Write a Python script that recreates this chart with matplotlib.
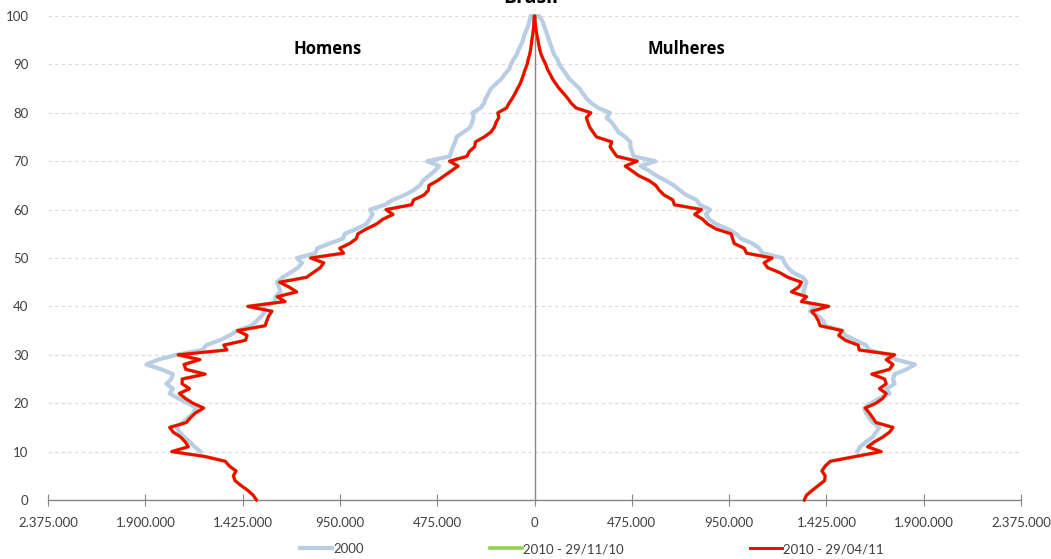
import numpy as np
import matplotlib
matplotlib.use("Agg")
import matplotlib.pyplot as plt
from matplotlib.ticker import FuncFormatter

# population by single age (thousands)
ages_2010 = list(range(0, 101))
ages_2000 = list(range(10, 101))

homens_2010_abr = [
    1357, 1374, 1400, 1433, 1462, 1470, 1457, 1489, 1510, 1610, 1771,
    1690, 1705, 1727, 1763, 1781, 1700, 1680, 1655, 1615, 1668,
    1705, 1734, 1684, 1720, 1720, 1608, 1702, 1711, 1634, 1740,
    1502, 1517, 1411, 1403, 1450, 1315, 1307, 1298, 1282, 1400,
    1218, 1256, 1161, 1198, 1245, 1113, 1080, 1046, 1029, 1093,
    932, 951, 902, 870, 862, 821, 772, 740, 691, 725,
    600, 590, 540, 518, 515, 473, 440, 406, 373, 415,
    330, 318, 292, 288, 246, 213, 196, 188, 174, 179,
    137, 124, 108, 95, 83, 70, 61, 53, 45, 36,
    31, 24, 19, 16, 13, 9, 6, 4, 3, 2]

mulheres_2010_abr = [
    1317, 1328, 1356, 1386, 1416, 1419, 1403, 1419, 1444, 1568, 1692,
    1626, 1659, 1700, 1733, 1750, 1667, 1651, 1634, 1614, 1667,
    1700, 1717, 1684, 1717, 1709, 1647, 1733, 1750, 1717, 1758,
    1585, 1580, 1518, 1485, 1502, 1394, 1386, 1373, 1353, 1436,
    1303, 1328, 1254, 1290, 1303, 1237, 1196, 1138, 1121, 1160,
    1035, 1024, 975, 967, 960, 886, 845, 821, 782, 815,
    683, 675, 633, 609, 592, 559, 509, 476, 443, 501,
    402, 385, 369, 377, 303, 286, 270, 261, 253, 275,
    203, 179, 162, 142, 121, 104, 88, 76, 63, 55,
    43, 33, 26, 21, 17, 12, 8, 5, 3, 2]

# the 29/11/10 release sits under the 29/04/11 line in the chart
homens_2010_nov = [
    1357, 1374, 1400, 1433, 1462, 1470, 1457, 1489, 1510, 1610, 1771,
    1690, 1705, 1727, 1763, 1781, 1700, 1680, 1655, 1615, 1668,
    1705, 1734, 1684, 1720, 1720, 1608, 1702, 1711, 1634, 1740,
    1502, 1517, 1411, 1403, 1450, 1315, 1307, 1298, 1282, 1400,
    1218, 1256, 1161, 1198, 1245, 1113, 1080, 1046, 1029, 1093,
    932, 951, 902, 870, 862, 821, 772, 740, 691, 725,
    600, 590, 540, 518, 515, 473, 440, 406, 373, 415,
    330, 318, 292, 288, 246, 213, 196, 188, 174, 179,
    137, 124, 108, 95, 83, 70, 61, 53, 45, 36,
    31, 24, 19, 16, 13, 9, 6, 4, 3, 2]

mulheres_2010_nov = [
    1317, 1328, 1356, 1386, 1416, 1419, 1403, 1419, 1444, 1568, 1692,
    1626, 1659, 1700, 1733, 1750, 1667, 1651, 1634, 1614, 1667,
    1700, 1717, 1684, 1717, 1709, 1647, 1733, 1750, 1717, 1758,
    1585, 1580, 1518, 1485, 1502, 1394, 1386, 1373, 1353, 1436,
    1303, 1328, 1254, 1290, 1303, 1237, 1196, 1138, 1121, 1160,
    1035, 1024, 975, 967, 960, 886, 845, 821, 782, 815,
    683, 675, 633, 609, 592, 559, 509, 476, 443, 501,
    402, 385, 369, 377, 303, 286, 270, 261, 253, 275,
    203, 179, 162, 142, 121, 104, 88, 76, 63, 55,
    43, 33, 26, 21, 17, 12, 8, 5, 3, 2]

homens_2000 = [
    1630, 1660, 1683, 1710, 1732, 1748, 1716, 1690, 1665, 1651, 1691,
    1740, 1781, 1765, 1797, 1773, 1765, 1822, 1895, 1838, 1748,
    1622, 1602, 1537, 1488, 1450, 1383, 1357, 1332, 1315, 1324,
    1265, 1265, 1240, 1248, 1258, 1230, 1190, 1155, 1135, 1160,
    1070, 1060, 1000, 935, 926, 870, 821, 805, 790, 803,
    730, 692, 634, 590, 560, 544, 515, 487, 465, 524,
    414, 406, 398, 386, 381, 347, 314, 305, 297, 302,
    263, 246, 238, 225, 213, 188, 162, 145, 124, 115,
    103, 87, 78, 66, 56, 50, 40, 31, 24, 19]

mulheres_2000 = [
    1576, 1590, 1618, 1651, 1667, 1684, 1651, 1634, 1618, 1610, 1642,
    1684, 1733, 1717, 1758, 1750, 1758, 1816, 1857, 1767, 1717,
    1634, 1618, 1568, 1518, 1502, 1419, 1411, 1386, 1345, 1370,
    1320, 1320, 1312, 1320, 1328, 1310, 1262, 1237, 1221, 1211,
    1113, 1097, 1065, 1008, 984, 943, 886, 853, 837, 857,
    807, 791, 741, 710, 680, 640, 595, 560, 518, 590,
    485, 476, 468, 468, 443, 410, 394, 377, 352, 369,
    311, 278, 253, 236, 220, 195, 170, 154, 137, 121,
    112, 96, 88, 79, 71, 63, 55, 46, 38, 22]

x_ticks = [-2375000, -1900000, -1425000, -950000, -475000, 0,
           475000, 950000, 1425000, 1900000, 2375000]
y_ticks = list(range(0, 101, 10))


def pyramid(ages, homens, mulheres):
    # one line: men from the base up to 100, then women back down
    x = [-v * 1000 for v in homens] + [v * 1000 for v in mulheres[::-1]]
    y = list(ages) + list(ages[::-1])
    return x, y


def fmt_pop(v, pos):
    return f"{abs(int(round(v))):,}".replace(",", ".")


fig = plt.figure(figsize=(10.51, 5.59), dpi=100)
ax = fig.add_axes([48 / 1051, 1 - 500 / 559, 973 / 1051, 484 / 559])

x, y = pyramid(ages_2000, homens_2000, mulheres_2000)
ax.plot(x, y, color='#B9CDE5', lw=3.0, solid_joinstyle='round', clip_on=False, label='2000', zorder=3)
x, y = pyramid(ages_2010, homens_2010_nov, mulheres_2010_nov)
ax.plot(x, y, color='#92D050', lw=2.6, solid_joinstyle='round', clip_on=False, label='2010 - 29/11/10', zorder=4)
x, y = pyramid(ages_2010, homens_2010_abr, mulheres_2010_abr)
ax.plot(x, y, color='#FF0000', lw=2.1, solid_joinstyle='round', clip_on=False, label='2010 - 29/04/11', zorder=5)

ax.set_xlim(-2375000, 2375000)
ax.set_ylim(0, 100)
ax.set_xticks(x_ticks)
ax.set_yticks(y_ticks)
ax.xaxis.set_major_formatter(FuncFormatter(fmt_pop))

for s in ['top', 'right', 'left']:
    ax.spines[s].set_visible(False)
ax.spines['bottom'].set_color('#868686')
ax.spines['bottom'].set_linewidth(1.0)
ax.axvline(0, color='#868686', lw=1.0, zorder=2)

ax.grid(axis='y', color='#D9D9D9', linestyle=(0, (3, 3)), lw=0.8)
ax.set_axisbelow(True)
ax.tick_params(axis='x', direction='inout', length=9, color='#868686', pad=8,
               labelsize=9.5, labelcolor='#404040')
ax.tick_params(axis='y', length=0, pad=14, labelsize=9.5, labelcolor='#404040')
for lab in ax.get_xticklabels() + ax.get_yticklabels():
    lab.set_family(['Lato', 'DejaVu Sans'])

ax.text(-1010000, 93.2, 'Homens', ha='center', va='center', fontsize=12,
        fontweight='bold', family=['Open Sans', 'DejaVu Sans'])
ax.text(740000, 93.2, 'Mulheres', ha='center', va='center', fontsize=12,
        fontweight='bold', family=['Open Sans', 'DejaVu Sans'])
fig.text(531 / 1051, 1 - 3 / 559, 'Brasil', ha='center', va='baseline', fontsize=14,
         fontweight='bold', family=['Open Sans', 'DejaVu Sans'])

leg = fig.legend(loc='center', bbox_to_anchor=(592 / 1051, 1 - 549 / 559), ncol=3,
                 frameon=False, handlelength=2.4, columnspacing=9.6, handletextpad=0.1,
                 prop={'family': ['Lato', 'DejaVu Sans'], 'size': 9.5})
for t in leg.get_texts():
    t.set_color('#404040')

fig.savefig('out.png', dpi=100)
